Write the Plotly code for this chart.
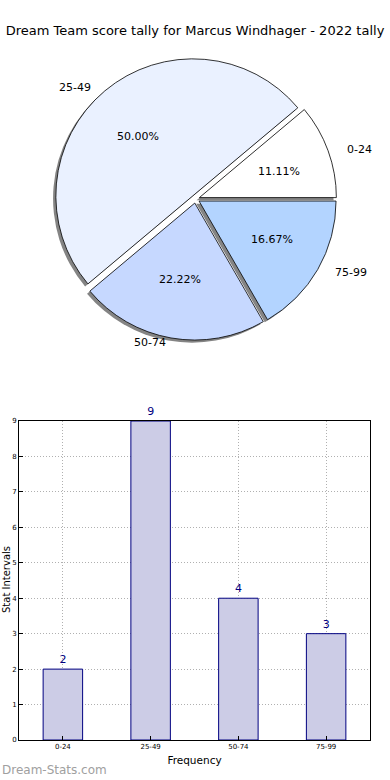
import math
import plotly.graph_objects as go

categories = ["0-24", "25-49", "50-74", "75-99"]
counts = [2, 9, 4, 3]
pie_colors = ["#ffffff", "#eaf1ff", "#c6d8ff", "#b3d4ff"]
y_ticks = [0, 1, 2, 3, 4, 5, 6, 7, 8, 9]

title_text = "Dream Team score tally for Marcus Windhager - 2022 tally"
FONT = "DejaVu Sans"
W, H = 390, 780

# pie geometry (pixels)
CX, CY = 195.5, 199.0
R = 137.0
PULL = 0.03
RX_TXT, RY_TXT = 141.0, 129.0   # text ring radii (horizontal / vertical)
OFF = PULL * R
START_ANGLE = 0.0  # first slice starts at 3 o'clock, counterclockwise

half = R * (1 + PULL)
pie_x = [(CX - half) / W, (CX + half) / W]
pie_y = [1 - (CY + half) / H, 1 - (CY - half) / H]
shadow_dx = -2.8 / W
shadow_dy = -2.6 / H

total = sum(counts)
rotation = 90 - START_ANGLE - 360.0 * counts[0] / total

fig = go.Figure()

# shadow
fig.add_trace(go.Pie(
    labels=categories, values=counts, sort=False, direction="counterclockwise",
    rotation=rotation, pull=[PULL] * len(counts), textinfo="none", hoverinfo="skip",
    marker=dict(colors=["rgba(110,110,110,0.85)"] * len(counts), line=dict(width=0)),
    domain=dict(x=[pie_x[0] + shadow_dx, pie_x[1] + shadow_dx],
                y=[pie_y[0] + shadow_dy, pie_y[1] + shadow_dy]),
    showlegend=False,
))

# main pie
fig.add_trace(go.Pie(
    labels=categories, values=counts, sort=False, direction="counterclockwise",
    rotation=rotation, pull=[PULL] * len(counts), textinfo="none",
    marker=dict(colors=pie_colors, line=dict(color="black", width=0.8)),
    domain=dict(x=pie_x, y=pie_y), showlegend=False,
))

# pie texts (labels at 1.1 R, percentages at 0.6 R), computed from the data
annotations = []
cum = 0.0
for cat, v in zip(categories, counts):
    mid = math.radians(START_ANGLE + 360.0 * (cum + v / 2.0) / total)
    cum += v
    c, s = math.cos(mid), math.sin(mid)
    ox, oy = CX + OFF * c, CY - OFF * s
    lx, ly = ox + 1.1 * RX_TXT * c, oy - 1.1 * RY_TXT * s
    annotations.append(dict(
        text=cat, xref="paper", yref="paper", x=lx / W, y=1 - ly / H,
        xanchor="left" if c > 0 else "right", yanchor="middle", showarrow=False,
        font=dict(size=11, family=FONT, color="black")))
    px_, py_ = ox + 0.6 * RX_TXT * c, oy - 0.6 * RY_TXT * s
    annotations.append(dict(
        text=f"{100.0 * v / total:.2f}%", xref="paper", yref="paper",
        x=px_ / W, y=1 - py_ / H, xanchor="center", yanchor="middle",
        showarrow=False, font=dict(size=11, family=FONT, color="black")))

fig.add_trace(go.Bar(
    x=categories, y=counts, width=0.45,
    marker=dict(color="#ccccE6", line=dict(color="#000080", width=1)),
    text=[str(c) for c in counts], textposition="outside",
    textfont=dict(family=FONT, size=11, color="#000080"),
    cliponaxis=False, showlegend=False, hoverinfo="skip",
))

annotations += [
    dict(text="Stat Intervals", textangle=-90, xref="paper", yref="paper",
         x=6 / W, y=1 - 580 / H, xanchor="center", yanchor="middle",
         showarrow=False, font=dict(size=10, family=FONT)),
    dict(text="Dream-Stats.com", xref="paper", yref="paper",
         x=0, y=1 - 770 / H, xanchor="left", yanchor="middle",
         showarrow=False, font=dict(size=12, family=FONT, color="#a0a0a0")),
]

fig.update_layout(
    width=W, height=H,
    margin=dict(l=0, r=0, t=0, b=0),
    paper_bgcolor="white", plot_bgcolor="white",
    font=dict(family=FONT, color="black"),
    title=dict(text=title_text, x=0.5, xanchor="center", y=1 - 30 / H,
               yanchor="middle", font=dict(size=13, family=FONT)),
    xaxis=dict(domain=[19 / W, 370 / W], range=[-0.5, 3.5],
               showline=True, linecolor="black", mirror=True, linewidth=1,
               ticks="inside", ticklen=4, tickcolor="black",
               tickfont=dict(size=7), showgrid=True, gridcolor="#b0b0b0",
               griddash="1px,2px", gridwidth=1,
               title=dict(text="Frequency", font=dict(size=10.5), standoff=6),
               automargin=False),
    yaxis=dict(domain=[1 - 740 / H, 1 - 421 / H], range=[0, 9],
               tickvals=y_ticks, showline=True, linecolor="black", mirror=True,
               linewidth=1, ticks="inside", ticklen=4, tickcolor="black",
               tickfont=dict(size=7), showgrid=True, gridcolor="#b0b0b0",
               griddash="1px,2px", gridwidth=1, zeroline=False, automargin=False),
    annotations=annotations,
)

fig.write_html("out.html", config={"displayModeBar": False},
               post_script="document.body.style.margin='0';")
